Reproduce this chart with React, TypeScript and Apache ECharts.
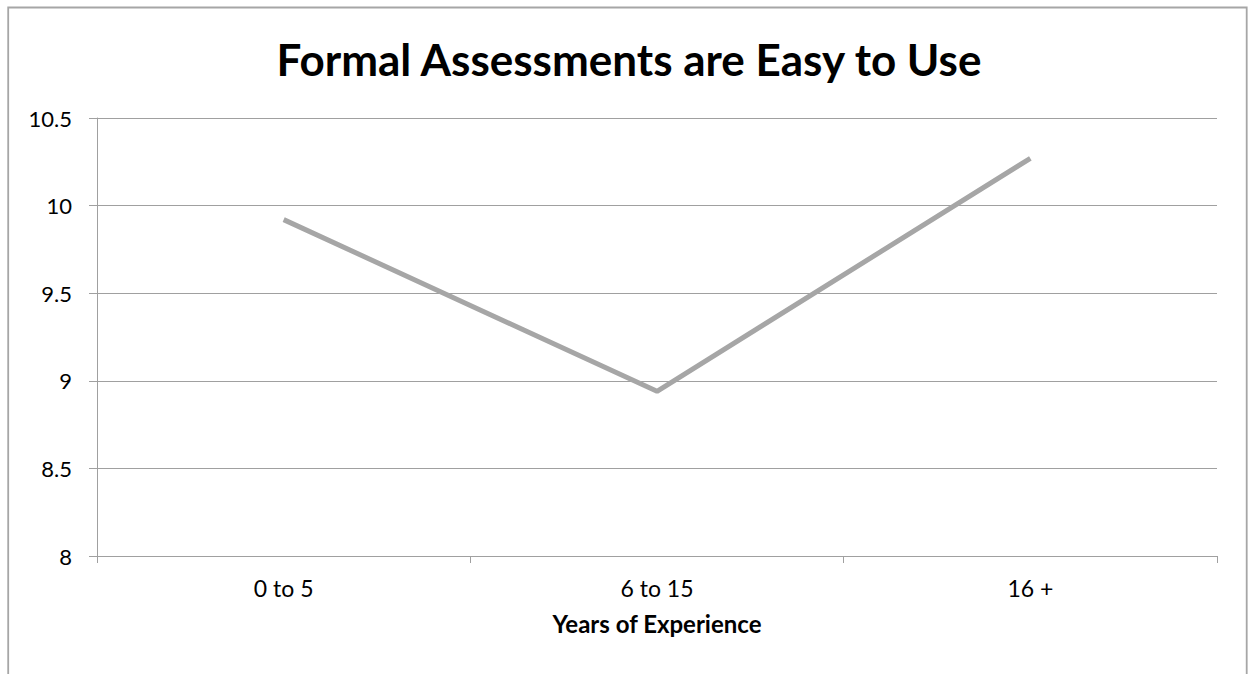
import React, { useEffect, useRef } from "react";
import * as echarts from "echarts";

const categories = ["0 to 5", "6 to 15", "16 +"];
const values = [9.92, 8.94, 10.27];
const yMin = 8;
const yMax = 10.5;
const yStep = 0.5;
const titleText = "Formal Assessments are Easy to Use";
const xAxisName = "Years of Experience";

const FONT = "Lato, 'Open Sans', sans-serif";

export default function App() {
  const ref = useRef<HTMLDivElement>(null);
  useEffect(() => {
    if (!ref.current) return;
    const chart = echarts.init(ref.current, undefined, { renderer: "svg" });
    chart.setOption({
      animation: false,
      backgroundColor: "#ffffff",
      title: {
        text: titleText,
        left: 624,
        textAlign: "center",
        top: 32,
        textStyle: {
          fontFamily: FONT,
          fontWeight: "bold",
          fontSize: 44,
          color: "#000000",
        },
      },
      graphic: [
        {
          type: "rect",
          silent: true,
          shape: { x: 8.2, y: 7.5, width: 1238.5, height: 720 },
          style: { fill: "none", stroke: "#a6a6a6", lineWidth: 1.8 },
        },
      ],
      grid: { left: 97, right: 35, top: 118, bottom: 118, containLabel: false },
      xAxis: {
        type: "category",
        data: categories,
        boundaryGap: true,
        name: xAxisName,
        nameLocation: "middle",
        nameGap: 55,
        nameTextStyle: {
          fontFamily: FONT,
          fontWeight: "bold",
          fontSize: 24,
          color: "#000000",
        },
        axisLine: { show: true, lineStyle: { color: "#a0a0a0", width: 1 } },
        axisTick: { show: true, length: 7, lineStyle: { color: "#a0a0a0" } },
        axisLabel: {
          fontFamily: FONT,
          fontSize: 23,
          color: "#000000",
          margin: 20,
        },
        splitLine: { show: false },
      },
      yAxis: {
        type: "value",
        min: yMin,
        max: yMax,
        interval: yStep,
        axisLine: { show: true, lineStyle: { color: "#a0a0a0", width: 1 } },
        axisTick: { show: true, length: 8, lineStyle: { color: "#a0a0a0" } },
        axisLabel: {
          fontFamily: FONT,
          fontSize: 22,
          color: "#000000",
          margin: 25,
          formatter: (v: number) => String(v),
        },
        splitLine: { show: true, lineStyle: { color: "#a0a0a0", width: 1 } },
      },
      series: [
        {
          type: "line",
          data: values,
          symbol: "none",
          lineStyle: { color: "#a6a6a6", width: 5 },
        },
      ],
    });
    return () => chart.dispose();
  }, []);

  return (
    <div
      ref={ref}
      style={{ position: "fixed", left: 0, top: 0, width: 1252, height: 674 }}
    />
  );
}
